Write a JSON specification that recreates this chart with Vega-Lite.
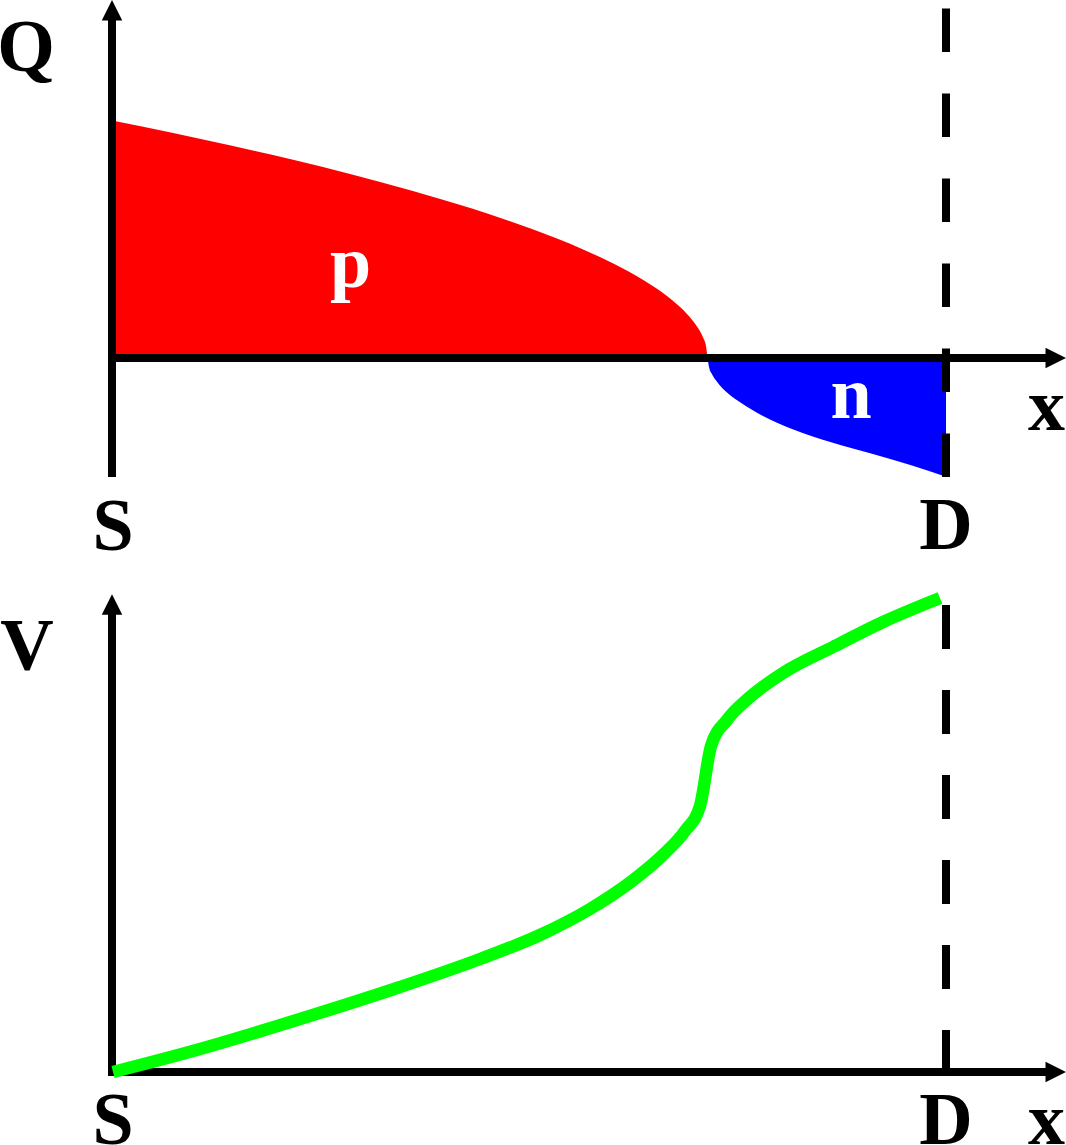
{
  "$schema": "https://vega.github.io/schema/vega-lite/v6.json",
  "width": 1066,
  "height": 1145,
  "autosize": {"type": "none"},
  "padding": 0,
  "background": "white",
  "config": {"view": {"stroke": null}},
  "datasets": {
    "qArea": [
      {"x": 0, "q": 237.5, "carrier": "p"},
      {"x": 60, "q": 225.2, "carrier": "p"},
      {"x": 120, "q": 212.2, "carrier": "p"},
      {"x": 180, "q": 198.4, "carrier": "p"},
      {"x": 240, "q": 183.5, "carrier": "p"},
      {"x": 300, "q": 167.3, "carrier": "p"},
      {"x": 360, "q": 149.4, "carrier": "p"},
      {"x": 420, "q": 128.9, "carrier": "p"},
      {"x": 470, "q": 109.0, "carrier": "p"},
      {"x": 510, "q": 90.0, "carrier": "p"},
      {"x": 540, "q": 72.5, "carrier": "p"},
      {"x": 560, "q": 58.0, "carrier": "p"},
      {"x": 575, "q": 44.1, "carrier": "p"},
      {"x": 585, "q": 31.5, "carrier": "p"},
      {"x": 591, "q": 20.6, "carrier": "p"},
      {"x": 594, "q": 11.9, "carrier": "p"},
      {"x": 595.5, "q": 0, "carrier": "p"},
      {"x": 595.5, "q": 0, "carrier": "n"},
      {"x": 597, "q": -9, "carrier": "n"},
      {"x": 600, "q": -16.3, "carrier": "n"},
      {"x": 605, "q": -23.7, "carrier": "n"},
      {"x": 615, "q": -34.5, "carrier": "n"},
      {"x": 630, "q": -45.5, "carrier": "n"},
      {"x": 650, "q": -57.5, "carrier": "n"},
      {"x": 680, "q": -71, "carrier": "n"},
      {"x": 720, "q": -84.5, "carrier": "n"},
      {"x": 760, "q": -95.8, "carrier": "n"},
      {"x": 800, "q": -107.5, "carrier": "n"},
      {"x": 834, "q": -118.7, "carrier": "n"}
    ],
    "vLine": [
      {"x": 1, "v": 0},
      {"x": 88, "v": 23},
      {"x": 188, "v": 53},
      {"x": 288, "v": 85},
      {"x": 368, "v": 113},
      {"x": 428, "v": 137},
      {"x": 478, "v": 163},
      {"x": 520, "v": 191},
      {"x": 553, "v": 219},
      {"x": 573, "v": 241},
      {"x": 588, "v": 266},
      {"x": 599, "v": 326},
      {"x": 615, "v": 352},
      {"x": 638, "v": 375},
      {"x": 671, "v": 399},
      {"x": 721, "v": 425},
      {"x": 771, "v": 450},
      {"x": 828, "v": 474}
    ],
    "qAxes": [
      {"x": 0, "x2": 0, "q": -119, "q2": 340},
      {"x": -4, "x2": 936, "q": 0, "q2": 0}
    ],
    "vAxes": [
      {"x": 0, "x2": 0, "v": -4, "v2": 462},
      {"x": -4, "x2": 936, "v": 0, "v2": 0}
    ],
    "qArrows": [
      {"x": 0, "q": 347.75, "dir": "up"},
      {"x": 943.75, "q": 0, "dir": "right"}
    ],
    "vArrows": [
      {"x": 0, "v": 467.45, "dir": "up"},
      {"x": 943.75, "v": 0, "dir": "right"}
    ],
    "qDash": [{"x": 834, "q": -119, "q2": 358}],
    "vDash": [{"x": 834, "v": -2, "v2": 474}],
    "qLabels": [
      {"label": "Q", "x": -86, "q": 287},
      {"label": "S", "x": 1, "q": -192},
      {"label": "D", "x": 834, "q": -191},
      {"label": "x", "x": 934.5, "q": -72}
    ],
    "qRegionLabels": [
      {"label": "p", "x": 238.5, "q": 70.7},
      {"label": "n", "x": 739, "q": -60}
    ],
    "vLabels": [
      {"label": "V", "x": -85, "v": 402},
      {"label": "S", "x": 1, "v": -72},
      {"label": "D", "x": 834, "v": -72},
      {"label": "x", "x": 934.5, "v": -72}
    ]
  },
  "layer": [
    {
      "layer": [
        {
          "data": {"name": "qArea"},
          "mark": {"type": "area", "interpolate": "monotone", "opacity": 1},
          "encoding": {
            "x": {"field": "x", "type": "quantitative", "scale": {"domain": [-112, 954], "nice": false, "zero": false}, "axis": null},
            "y": {"field": "q", "type": "quantitative", "scale": {"domain": [-787, 358], "nice": false, "zero": false}, "axis": null},
            "y2": {"datum": 0},
            "color": {"field": "carrier", "type": "nominal", "scale": {"domain": ["p", "n"], "range": ["#ff0000", "#0000ff"]}, "legend": null}
          }
        },
        {
          "data": {"name": "qAxes"},
          "mark": {"type": "rule", "color": "#000000", "strokeWidth": 8},
          "encoding": {
            "x": {"field": "x", "type": "quantitative", "scale": {"domain": [-112, 954], "nice": false, "zero": false}, "axis": null},
            "x2": {"field": "x2"},
            "y": {"field": "q", "type": "quantitative", "scale": {"domain": [-787, 358], "nice": false, "zero": false}, "axis": null},
            "y2": {"field": "q2"}
          }
        },
        {
          "data": {"name": "qDash"},
          "mark": {"type": "rule", "color": "#000000", "strokeWidth": 8, "strokeDash": [43.5, 41.5]},
          "encoding": {
            "x": {"field": "x", "type": "quantitative", "scale": {"domain": [-112, 954], "nice": false, "zero": false}, "axis": null},
            "y": {"field": "q", "type": "quantitative", "scale": {"domain": [-787, 358], "nice": false, "zero": false}, "axis": null},
            "y2": {"field": "q2"}
          }
        },
        {
          "data": {"name": "qArrows"},
          "mark": {"type": "point", "filled": true, "color": "#000000", "opacity": 1, "size": 420, "strokeWidth": 0},
          "encoding": {
            "x": {"field": "x", "type": "quantitative", "scale": {"domain": [-112, 954], "nice": false, "zero": false}, "axis": null},
            "y": {"field": "q", "type": "quantitative", "scale": {"domain": [-787, 358], "nice": false, "zero": false}, "axis": null},
            "shape": {"field": "dir", "type": "nominal", "scale": {"domain": ["up", "right"], "range": ["M0,-1L-1,1L1,1Z", "M1,0L-1,-1L-1,1Z"]}, "legend": null}
          }
        },
        {
          "data": {"name": "qLabels"},
          "mark": {"type": "text", "font": "Liberation Serif", "fontWeight": "bold", "fontSize": 74, "align": "center", "baseline": "alphabetic", "color": "#000000"},
          "encoding": {
            "x": {"field": "x", "type": "quantitative", "scale": {"domain": [-112, 954], "nice": false, "zero": false}, "axis": null},
            "y": {"field": "q", "type": "quantitative", "scale": {"domain": [-787, 358], "nice": false, "zero": false}, "axis": null},
            "text": {"field": "label"}
          }
        },
        {
          "data": {"name": "qRegionLabels"},
          "mark": {"type": "text", "font": "Liberation Serif", "fontWeight": "bold", "fontSize": 74, "align": "center", "baseline": "alphabetic", "color": "#ffffff"},
          "encoding": {
            "x": {"field": "x", "type": "quantitative", "scale": {"domain": [-112, 954], "nice": false, "zero": false}, "axis": null},
            "y": {"field": "q", "type": "quantitative", "scale": {"domain": [-787, 358], "nice": false, "zero": false}, "axis": null},
            "text": {"field": "label"}
          }
        }
      ]
    },
    {
      "layer": [
        {
          "data": {"name": "vAxes"},
          "mark": {"type": "rule", "color": "#000000", "strokeWidth": 8},
          "encoding": {
            "x": {"field": "x", "type": "quantitative", "scale": {"domain": [-112, 954], "nice": false, "zero": false}, "axis": null},
            "x2": {"field": "x2"},
            "y": {"field": "v", "type": "quantitative", "scale": {"domain": [-73, 1072], "nice": false, "zero": false}, "axis": null},
            "y2": {"field": "v2"}
          }
        },
        {
          "data": {"name": "vDash"},
          "mark": {"type": "rule", "color": "#000000", "strokeWidth": 8, "strokeDash": [44, 41]},
          "encoding": {
            "x": {"field": "x", "type": "quantitative", "scale": {"domain": [-112, 954], "nice": false, "zero": false}, "axis": null},
            "y": {"field": "v", "type": "quantitative", "scale": {"domain": [-73, 1072], "nice": false, "zero": false}, "axis": null},
            "y2": {"field": "v2"}
          }
        },
        {
          "data": {"name": "vArrows"},
          "mark": {"type": "point", "filled": true, "color": "#000000", "opacity": 1, "size": 420, "strokeWidth": 0},
          "encoding": {
            "x": {"field": "x", "type": "quantitative", "scale": {"domain": [-112, 954], "nice": false, "zero": false}, "axis": null},
            "y": {"field": "v", "type": "quantitative", "scale": {"domain": [-73, 1072], "nice": false, "zero": false}, "axis": null},
            "shape": {"field": "dir", "type": "nominal", "scale": {"domain": ["up", "right"], "range": ["M0,-1L-1,1L1,1Z", "M1,0L-1,-1L-1,1Z"]}, "legend": null}
          }
        },
        {
          "data": {"name": "vLine"},
          "mark": {"type": "line", "interpolate": "monotone", "color": "#00ff00", "strokeWidth": 12.5, "strokeCap": "butt"},
          "encoding": {
            "x": {"field": "x", "type": "quantitative", "scale": {"domain": [-112, 954], "nice": false, "zero": false}, "axis": null},
            "y": {"field": "v", "type": "quantitative", "scale": {"domain": [-73, 1072], "nice": false, "zero": false}, "axis": null}
          }
        },
        {
          "data": {"name": "vLabels"},
          "mark": {"type": "text", "font": "Liberation Serif", "fontWeight": "bold", "fontSize": 74, "align": "center", "baseline": "alphabetic", "color": "#000000"},
          "encoding": {
            "x": {"field": "x", "type": "quantitative", "scale": {"domain": [-112, 954], "nice": false, "zero": false}, "axis": null},
            "y": {"field": "v", "type": "quantitative", "scale": {"domain": [-73, 1072], "nice": false, "zero": false}, "axis": null},
            "text": {"field": "label"}
          }
        }
      ]
    }
  ],
  "resolve": {"scale": {"y": "independent"}}
}
